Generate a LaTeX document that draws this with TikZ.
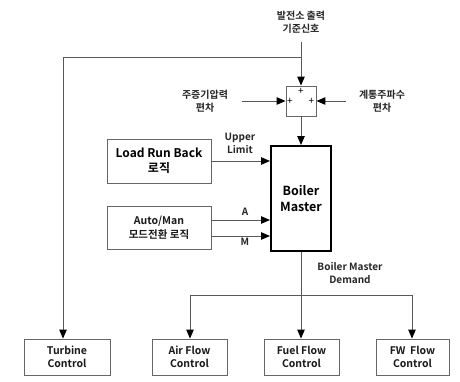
\documentclass[tikz,border=0pt]{standalone}
\usepackage{fontspec}
\setmainfont{Noto Sans CJK KR}[BoldFont={Noto Sans CJK KR Bold}]
\usetikzlibrary{arrows.meta}
\begin{document}
\begin{tikzpicture}[x=1pt,y=-1pt,
  line/.style={draw=black!65, line width=1pt},
  arr/.style={line, arrows={-{Triangle[length=9pt,width=7.5pt,color=black]}}},
  box/.style={draw=black!60, line width=0.9pt, fill=white, align=center, inner sep=0pt},
  lbl/.style={align=center, font=\bfseries\fontsize{10}{12.5}\selectfont, text=black!85},
  btxt/.style={font=\bfseries\fontsize{10.5}{13.5}\selectfont, text=black!90},
  plus/.style={font=\fontsize{10}{10}\selectfont, inner sep=0pt}
]
\useasboundingbox (0,0) rectangle (460,381);
% top reference
\node[lbl] (ref) at (301,22) {발전소 출력\\기준신호};
\coordinate (reftop) at (301,42);
\coordinate (split) at (301,57);
\coordinate (turbcorner) at (63,57);
% sum box
\node[box, minimum width=30pt, minimum height=30pt] (sum) at (301,101) {};
\node[plus] (p1) at (301,91) {+};
\node[plus] (p2) at (290,101) {+};
\node[plus] (p3) at (311.5,101) {+};
\node[lbl] (msp) at (205,101) {주증기압력\\편차};
\node[lbl] (gfr) at (382,101) {계통주파수\\편차};
\coordinate (mspend) at (242,101);
\coordinate (gfrend) at (346,101);
% boiler master
\node[box, draw=black, line width=2pt, minimum width=60pt, minimum height=105pt,
      font=\bfseries\fontsize{12.5}{16}\selectfont] (bm) at (301,198.5) {Boiler\\Master};
% Load run back
\node[box, minimum width=104pt, minimum height=44pt, font=\bfseries\fontsize{12}{15}\selectfont] (lrb) at (159,161) {Load Run Back\\로직};
\node[box, minimum width=104pt, minimum height=43pt, btxt] (am) at (159,227.5) {Auto/Man\\모드전환 로직};
\node[lbl, anchor=south] (ul) at (240,157) {Upper\\Limit};
\node[lbl] (la) at (245,212) {A};
\node[lbl] (lm) at (245,242) {M};
\node[lbl] (bmd) at (350,273) {Boiler Master\\Demand};
% bottom boxes
\node[box, minimum width=86pt, minimum height=36pt, btxt] (tc) at (67,357) {Turbine\\Control};
\node[box, minimum width=75pt, minimum height=36pt, btxt] (af) at (189.5,357) {Air Flow\\Control};
\node[box, minimum width=75pt, minimum height=36pt, btxt] (ff) at (301.5,357) {Fuel Flow\\Control};
\node[box, minimum width=73pt, minimum height=36pt, btxt] (fw) at (412.5,357) {FW~~Flow\\Control};
\coordinate (busl) at (190,295);
\coordinate (busr) at (412,295);
% connectors
\draw[arr] (reftop) -- (sum.north);
\draw[line] (split) -- (turbcorner);
\draw[arr] (turbcorner) -- (turbcorner |- tc.north);
\draw[arr] (mspend) -- (sum.west);
\draw[arr] (gfrend) -- (sum.east);
\draw[arr] (sum.south) -- (bm.north);
\draw[arr] (lrb.east) -- (lrb.east -| bm.west);
\draw[arr] ([yshift=-8.5pt]am.east) -- ([yshift=-8.5pt]am.east -| bm.west);
\draw[arr] ([yshift=7.5pt]am.east) -- ([yshift=7.5pt]am.east -| bm.west);
\draw[arr] (bm.south) -- (bm.south |- ff.north);
\draw[line] (busl) -- (busr);
\draw[arr] (busl) -- (busl |- af.north);
\draw[arr] (busr) -- (busr |- fw.north);
\end{tikzpicture}
\end{document}
